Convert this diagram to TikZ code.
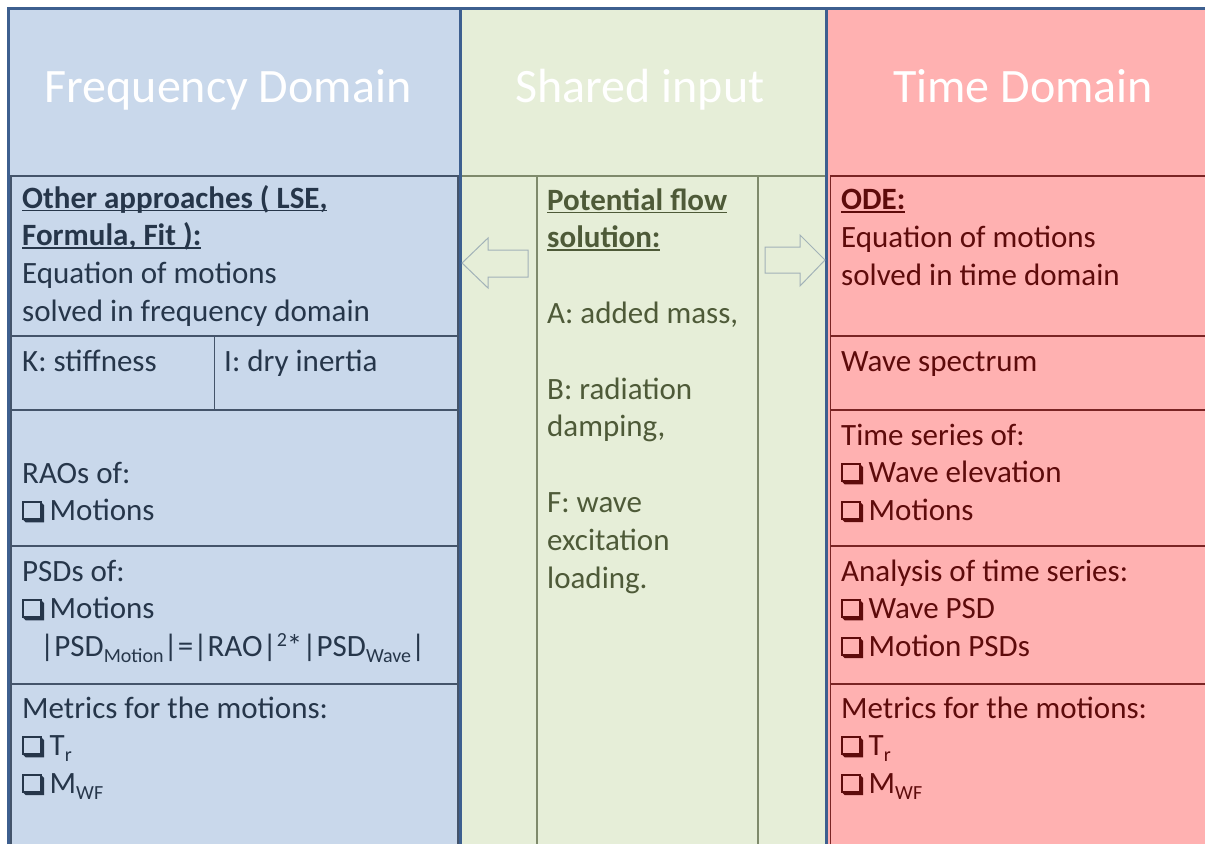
\documentclass[tikz,border=0pt]{standalone}
\usepackage{fontspec}
\setmainfont{Carlito}

\definecolor{fdbg}{HTML}{C9D8EB}
\definecolor{sibg}{HTML}{E6EED8}
\definecolor{tdbg}{HTML}{FFB1B1}
\definecolor{framecol}{HTML}{3D5F8F}
\definecolor{fdline}{HTML}{44546A}
\definecolor{siline}{HTML}{7F8A6C}
\definecolor{tdline}{HTML}{7A2424}
\definecolor{fdtext}{HTML}{26364A}
\definecolor{sitext}{HTML}{4E5A38}
\definecolor{tdtext}{HTML}{5E0B0B}
\definecolor{arrowline}{HTML}{A2B2B8}

% underlined heading text
\newcommand\uln[1]{\setbox0\hbox{#1}\rlap{\rule[-3.4pt]{\wd0}{1.8pt}}\box0}
% small lowered / raised text
\newcommand\sbs[1]{\raisebox{-6pt}{\fontsize{20}{20}\selectfont #1}}
\newcommand\sps[1]{\raisebox{10pt}{\fontsize{20}{20}\selectfont #1}}
% shadowed check box
\newcommand\cbx{\tikz[x=1pt,y=1pt,baseline=0pt]{%
  \draw[line width=2pt] (1,2) rectangle (18.5,19);
  \fill (0,2) -- (3.5,-1.5) -- (22,-1.5) -- (22,15.5) -- (18.5,19) -- (18.5,2) -- cycle;}%
  \hspace{5.5pt}}

\tikzset{
  cell/.style={anchor=base west, inner sep=0pt, font=\fontsize{31}{37.8}\selectfont},
  head/.style={anchor=base, inner sep=0pt, text=white, font=\fontsize{48}{58}\selectfont},
  blockarrow/.style={draw=arrowline, fill=sibg, line width=1pt, line join=miter},
  fdgrid/.style={draw=fdline, line width=1.5pt},
  tdgrid/.style={draw=tdline, line width=1.5pt},
  sigrid/.style={draw=siline, line width=1.5pt},
  frameline/.style={draw=framecol, line width=3pt},
}

\begin{document}
\begin{tikzpicture}[x=1pt, y=-1pt]
\useasboundingbox (0,0) rectangle (1205,844);
\fill[white] (0,0) rectangle (1205,844);

% column backgrounds
\fill[fdbg] (8,8) rectangle (460,844);
\fill[sibg] (460,8) rectangle (827,844);
\fill[tdbg] (827,8) rectangle (1205,844);

% frequency domain cells
\draw[fdgrid] (11,844) -- (11,176) -- (458,176) -- (458,844);
\foreach \yy in {336,410,546,684} \draw[fdgrid] (11,\yy) -- (458,\yy);
\draw[fdgrid] (214.5,336) -- (214.5,410);

% time domain cells
\draw[tdgrid] (830.5,844) -- (830.5,176) -- (1205,176);
\foreach \yy in {336,410,546,684} \draw[tdgrid] (830.5,\yy) -- (1205,\yy);

% shared input cells
\draw[sigrid] (461,176) -- (826,176);
\draw[sigrid] (537,176) -- (537,844);
\draw[sigrid] (758,176) -- (758,844);

% outer frame and column separators
\draw[frameline] (8.5,844) -- (8.5,8.5) -- (1205,8.5);
\draw[frameline] (460,8) -- (460,844);
\draw[frameline] (826.7,8) -- (826.7,844);

% block arrows
\draw[blockarrow] (462,263) -- (488,238) -- (488,250) -- (528,250) -- (528,277)
  -- (488,277) -- (488,288) -- cycle;
\draw[blockarrow] (825,260) -- (800,235) -- (800,247) -- (765,247) -- (765,273)
  -- (800,273) -- (800,286) -- cycle;

% headers
\node[head] (hfd) at (228,102) {Frequency Domain};
\node[head] (hsi) at (640,102) {Shared input};
\node[head] (htd) at (1023,102) {Time Domain};

% frequency domain column
\node[cell, text=fdtext] (fdeq) at (22,208) {\parbox[t]{430pt}{%
  \textbf{\uln{Other approaches ( LSE,}}\\
  \textbf{\uln{Formula, Fit ):}}\\
  Equation of motions\\
  solved in frequency domain}};
\node[cell, text=fdtext] (fdk) at (22,371) {K: stiffness};
\node[cell, text=fdtext] (fdi) at (224,371) {I: dry inertia};
\node[cell, text=fdtext] (fdrao) at (22,483) {\parbox[t]{430pt}{%
  RAOs of:\\
  \cbx Motions}};
\node[cell, text=fdtext] (fdpsd) at (22,581) {\parbox[t]{430pt}{%
  PSDs of:\\
  \cbx Motions\\
  \hspace*{18pt}|PSD\sbs{Motion}|=|RAO|\sps{2}*|PSD\sbs{Wave}|}};
\node[cell, text=fdtext] (fdmet) at (22,718) {\parbox[t]{430pt}{%
  Metrics for the motions:\\
  \cbx T\sbs{r}\\
  \cbx M\sbs{WF}}};

% shared input column
\node[cell, text=sitext] (sipf) at (547,210) {\parbox[t]{205pt}{%
  \textbf{\uln{Potential flow}}\\
  \textbf{\uln{solution:}}\\[37.8pt]
  A: added mass,\\[37.8pt]
  B: radiation\\
  damping,\\[37.8pt]
  F: wave\\
  excitation\\
  loading.}};

% time domain column
\node[cell, text=tdtext] (tdode) at (841,209.5) {\parbox[t]{360pt}{%
  \textbf{\uln{ODE:}}\\
  Equation of motions\\
  solved in time domain}};
\node[cell, text=tdtext] (tdws) at (841,371) {Wave spectrum};
\node[cell, text=tdtext] (tdts) at (841,445) {\parbox[t]{360pt}{%
  Time series of:\\
  \cbx Wave elevation\\
  \cbx Motions}};
\node[cell, text=tdtext] (tdan) at (841,581) {\parbox[t]{360pt}{%
  Analysis of time series:\\
  \cbx Wave PSD\\
  \cbx Motion PSDs}};
\node[cell, text=tdtext] (tdmet) at (841,718) {\parbox[t]{360pt}{%
  Metrics for the motions:\\
  \cbx T\sbs{r}\\
  \cbx M\sbs{WF}}};
\end{tikzpicture}
\end{document}
